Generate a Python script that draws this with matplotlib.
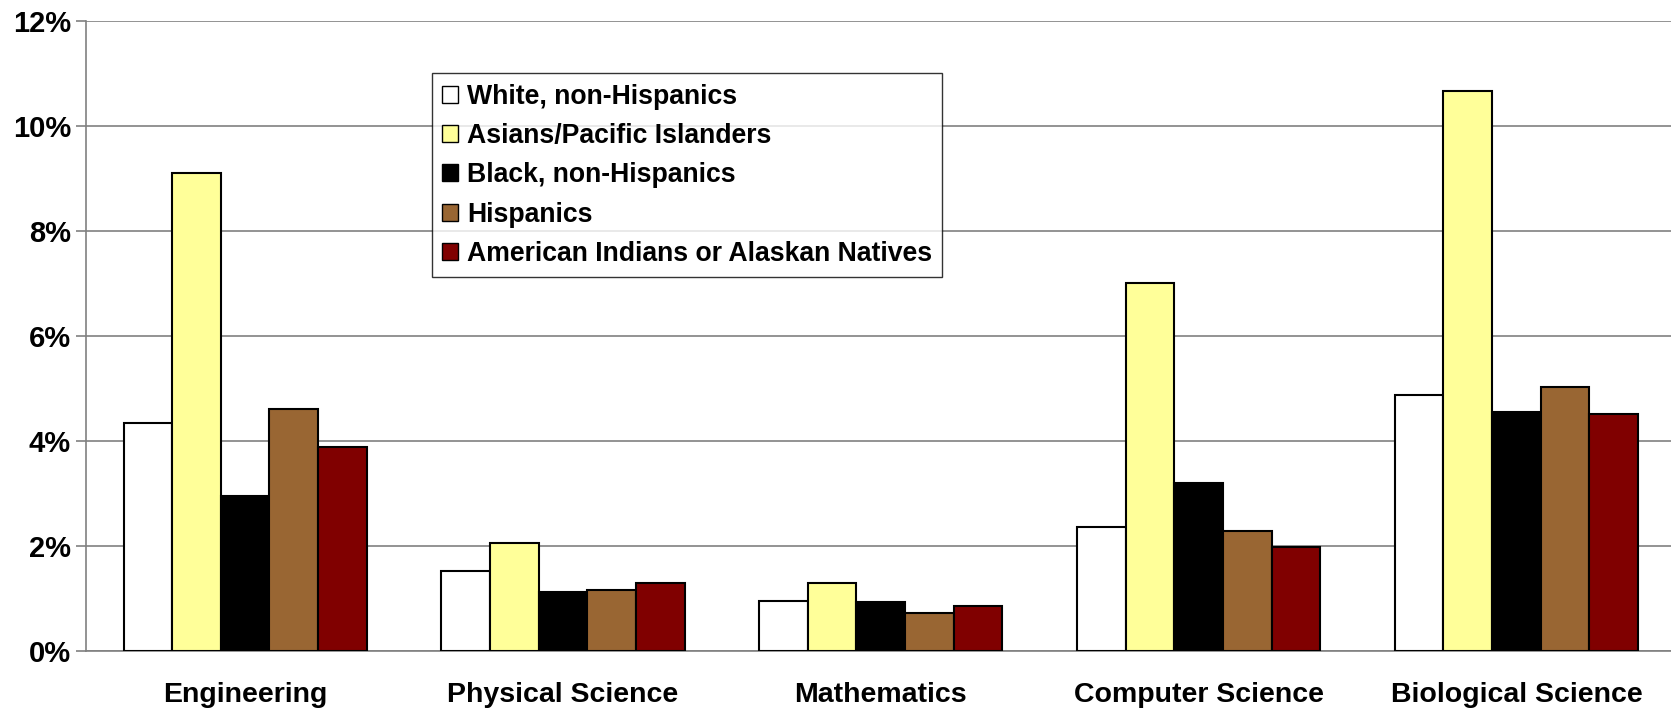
import numpy as np
import matplotlib
matplotlib.use("Agg")
import matplotlib.pyplot as plt
from matplotlib.ticker import FuncFormatter

plt.rcParams['font.family'] = ['Liberation Sans', 'DejaVu Sans']
plt.rcParams['font.weight'] = 'bold'

" DATA "
fields = ['Engineering', 'Physical Science', 'Mathematics', 'Computer Science', 'Biological Science']
groups = ['White, non-Hispanics', 'Asians/Pacific Islanders', 'Black, non-Hispanics',
          'Hispanics', 'American Indians or Alaskan Natives']

white = [4.35, 1.52, 0.96, 2.37, 4.88]
asian = [9.11, 2.06, 1.30, 7.02, 10.67]
black = [2.95, 1.12, 0.93, 3.21, 4.55]
hispanic = [4.61, 1.16, 0.73, 2.29, 5.04]
native = [3.89, 1.30, 0.85, 1.99, 4.51]

colors = ['#FFFFFF', '#FFFF99', '#000000', '#996633', '#800000']
series = [white, asian, black, hispanic, native]

" PLOT "
fig = plt.figure(figsize=(16.71, 7.08), dpi=100)
ax = fig.add_axes([0.0516, 0.0805, 0.951, 0.8895])

x = np.arange(len(fields))
w = 0.153
for i, (vals, c, lab) in enumerate(zip(series, colors, groups)):
    ax.bar(x + (i - 2) * w, vals, width=w, color=c, edgecolor='black',
           linewidth=1.5, label=lab, zorder=3)

ax.set_xlim(-0.5, 4.5)
ax.set_ylim(0, 12)
ax.set_yticks(np.arange(0, 13, 2))
ax.yaxis.set_major_formatter(FuncFormatter(lambda v, p: f'{v:.0f}%'))
ax.yaxis.grid(True, color='#808080', linewidth=1.2, zorder=0)
ax.set_xticks(x)
ax.set_xticklabels(fields, fontsize=20.5, fontweight='bold')
ax.tick_params(axis='x', length=0, pad=22)
ax.tick_params(axis='y', length=7, width=1.2, color='#808080', labelsize=21, pad=4)

for s in ['top', 'right']:
    ax.spines[s].set_visible(False)
ax.spines['left'].set_color('#808080')
ax.spines['left'].set_linewidth(1.2)
ax.spines['bottom'].set_color('#808080')
ax.spines['bottom'].set_linewidth(1.2)

leg = ax.legend(loc='upper left', bbox_to_anchor=(0.2583, 0.8962),
                bbox_transform=fig.transFigure, fontsize=19.2, frameon=True,
                fancybox=False, handlelength=0.6, handleheight=0.6,
                handletextpad=0.35, labelspacing=0.5, borderpad=0.38,
                borderaxespad=0)
leg.get_frame().set_edgecolor('black')
leg.get_frame().set_linewidth(1.0)
for h in leg.legend_handles:
    h.set_linewidth(1.0)

fig.savefig('out.png', dpi=100)
